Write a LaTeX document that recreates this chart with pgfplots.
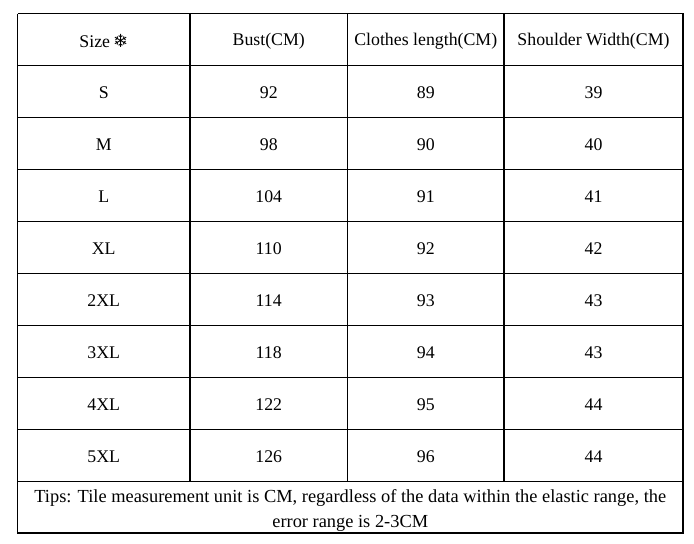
\documentclass[border=0pt]{standalone}
\usepackage{pgfplots}
\pgfplotsset{compat=1.18}
\usepackage{fontspec}
\setmainfont{Liberation Serif}
\newfontfamily\sym{DejaVu Sans}

\begin{document}
\begin{tikzpicture}
\begin{axis}[
    scale only axis,
    width=347pt, height=271.5pt,
    xmin=0, xmax=694, ymin=0, ymax=543,
    y dir=reverse,
    axis lines=none,
    clip=false,
    rule/.style={black, solid, mark=none, line width=0.55pt},
]
% page extent
\addplot[draw=none, mark=none] coordinates {(0,0) (694,543)};
% outer frame and rules
\addplot[rule] coordinates {(17.5,13.5) (683,13.5) (683,533) (17.5,533) (17.5,13.5)};
\addplot[rule] coordinates {(190,13.5) (190,481.5)};
\addplot[rule] coordinates {(347.5,13.5) (347.5,481.5)};
\addplot[rule] coordinates {(504,13.5) (504,481.5)};
\foreach \r in {65.5,117.5,169.5,221.5,273.5,325.5,377.5,429.5,481.5} {
    \edef\tmp{\noexpand\addplot[rule] coordinates {(17.5,\r) (683,\r)};}
    \tmp
}
% cell text
\addplot[draw=none, mark=none,
    nodes near coords, point meta=explicit symbolic,
    every node near coord/.style={anchor=center, font=\fontsize{8.9}{10}\selectfont, black}]
    table[col sep=comma, meta=label] {
x,y,label
103.75,41,Size{\sym\,\raisebox{0.05ex}{\small ❄}}
268.75,41,Bust(CM)
425.75,41,Clothes length(CM)
593.5,41,Shoulder Width(CM)
103.75,93,S
268.75,93,92
425.75,93,89
593.5,93,39
103.75,145,M
268.75,145,98
425.75,145,90
593.5,145,40
103.75,197,L
268.75,197,104
425.75,197,91
593.5,197,41
103.75,249,XL
268.75,249,110
425.75,249,92
593.5,249,42
103.75,301,2XL
268.75,301,114
425.75,301,93
593.5,301,43
103.75,353,3XL
268.75,353,118
425.75,353,94
593.5,353,43
103.75,405,4XL
268.75,405,122
425.75,405,95
593.5,405,44
103.75,457,5XL
268.75,457,126
425.75,457,96
593.5,457,44
};
% tips
\addplot[draw=none, mark=none,
    nodes near coords, point meta=explicit symbolic,
    every node near coord/.style={anchor=center, align=center, font=\fontsize{9.2}{12.5}\selectfont, black}]
    coordinates {(350.25,510.5) [{Tips: Tile measurement unit is CM, regardless of the data within the elastic range, the\\error range is 2-3CM}]};
\end{axis}
\end{tikzpicture}
\end{document}
